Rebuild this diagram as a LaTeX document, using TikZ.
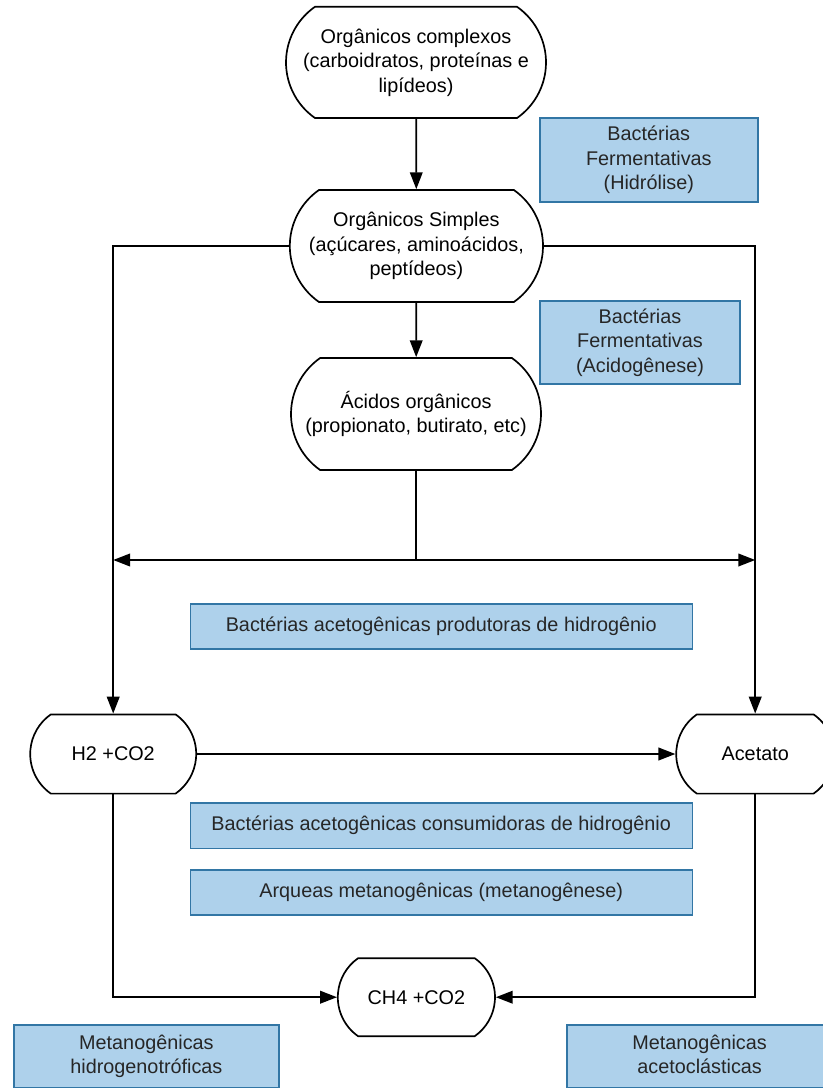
\documentclass[tikz,border=0pt]{standalone}
\usepackage{fontspec}
\setmainfont{Liberation Sans}
\definecolor{tagfill}{RGB}{174, 209, 235}
\definecolor{tagline}{RGB}{50, 118, 165}
\usetikzlibrary{shapes.misc, arrows.meta, positioning, calc}

\begin{document}
\begin{tikzpicture}[
  term/.style={draw, line width=1.2pt, rounded rectangle, rounded rectangle arc length=110, align=center, inner sep=0pt, font=\fontsize{14.1pt}{17.4pt}\selectfont},
  tag/.style={draw=tagline, line width=1pt, fill=tagfill, align=center, inner sep=0pt, text=black!85, font=\fontsize{14.1pt}{17.4pt}\selectfont},
  arr/.style={-{Triangle[length=12pt, width=9pt]}, line width=1.2pt},
]
  \useasboundingbox (0, 0) rectangle (20.55, -27.2);
  % chain of organic matter
  \node[term, minimum width=6.5cm, minimum height=2.78cm] (cplx) at (10.4, -1.56) {Orgânicos complexos\\(carboidratos, proteínas e\\lipídeos)};
  \node[term, minimum width=6.33cm, minimum height=2.8cm] (simples) at (10.41, -6.15) {Orgânicos Simples\\(açúcares, aminoácidos,\\peptídeos)};
  \node[term, minimum width=6.25cm, minimum height=2.8cm] (acidos) at (10.4, -10.35) {Ácidos orgânicos\\(propionato, butirato, etc)};
  \node[term, minimum width=4.15cm, minimum height=1.98cm] (h2) at (2.83, -18.85) {H2 +CO2};
  \node[term, minimum width=3.95cm, minimum height=1.98cm] (acet) at (18.88, -18.85) {Acetato};
  \node[term, minimum width=3.93cm, minimum height=1.95cm] (ch4) at (10.41, -24.93) {CH4 +CO2};
  % microorganisms
  \node[tag, minimum width=5.45cm, minimum height=2.1cm] (hidrol) at (16.22, -4.0) {Bactérias\\Fermentativas\\(Hidrólise)};
  \node[tag, minimum width=5.0cm, minimum height=2.08cm] (acidog) at (16.0, -8.56) {Bactérias\\Fermentativas\\(Acidogênese)};
  \node[tag, minimum width=12.55cm, minimum height=1.13cm] (produt) at (11.03, -15.66) {Bactérias acetogênicas produtoras de hidrogênio};
  \node[tag, minimum width=12.55cm, minimum height=1.13cm] (consum) at (11.03, -20.64) {Bactérias acetogênicas consumidoras de hidrogênio};
  \node[tag, minimum width=12.55cm, minimum height=1.13cm] (arqueas) at (11.03, -22.31) {Arqueas metanogênicas (metanogênese)};
  \node[tag, minimum width=6.63cm, minimum height=1.58cm] (hidrog) at (3.66, -26.41) {Metanogênicas\\hidrogenotróficas};
  \node[tag, minimum width=6.63cm, minimum height=1.58cm] (acetoc) at (17.49, -26.41) {Metanogênicas\\acetoclásticas\vphantom{g}};
  % connectors
  \draw[arr] (cplx) -- (simples);
  \draw[arr] (simples) -- (acidos);
  \draw[arr] (simples.west) -| (h2.north);
  \draw[arr] (simples.east) -| (acet.north);
  \coordinate (split) at (acidos.south |- 0, -14.0);
  \draw[line width=1.2pt] (acidos.south) -- (split);
  \draw[arr] (split) -- (split -| h2.north);
  \draw[arr] (split) -- (split -| acet.north);
  \draw[arr] (h2) -- (acet);
  \draw[arr] (h2.south) |- (ch4.west);
  \draw[arr] (acet.south) |- (ch4.east);
\end{tikzpicture}
\end{document}
